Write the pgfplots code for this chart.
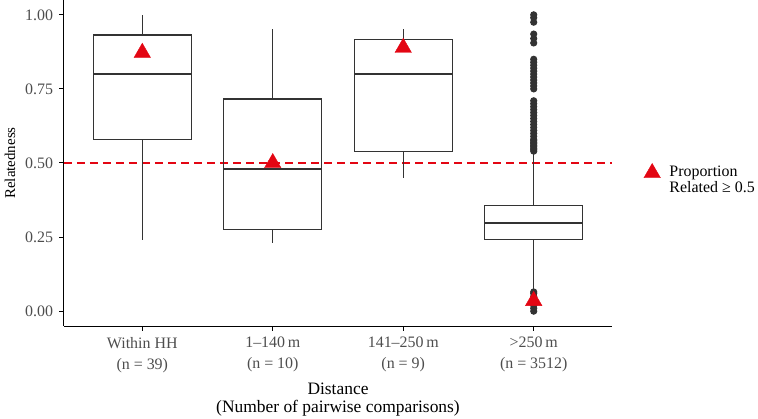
\documentclass[border=0pt]{standalone}
\usepackage{pgfplots}
\pgfplotsset{compat=1.18}
\usepgfplotslibrary{statistics}
\usepackage{fontspec}
\setmainfont{Liberation Serif}

\definecolor{boxgrey}{HTML}{333333}
\definecolor{tickgrey}{HTML}{4D4D4D}
\definecolor{trired}{RGB}{227,6,19}

\begin{document}
\begin{tikzpicture}
\begin{axis}[
    name=ax,
    scale only axis,
    width=548bp, height=326bp,
    xmin=0.4, xmax=4.6,
    ymin=-0.05, ymax=1.05,
    axis lines*=left,
    axis line style={line width=1bp, black},
    tick align=outside,
    major tick length=4.5bp,
    tick style={line width=1bp, black},
    xtick={1,2,3,4},
    xticklabels={{Within HH\\(n = 39)}, {1--140\,m\\(n = 10)}, {141--250\,m\\(n = 9)}, {>250\,m\\(n = 3512)}},
    x tick label style={align=center, font=\fontsize{16}{21}\selectfont, text=tickgrey, yshift=-3bp},
    ytick={0,0.25,0.5,0.75,1},
    yticklabel style={font=\fontsize{16}{18}\selectfont, text=tickgrey, xshift=-3bp,
        /pgf/number format/fixed, /pgf/number format/fixed zerofill,
        /pgf/number format/precision=2, /pgf/number format/assume math mode=true},
    xlabel={Distance\\(Number of pairwise comparisons)},
    ylabel={Relatedness},
    every axis x label/.style={at={(axis description cs:0.5,-0.2255)}, anchor=center, align=center, font=\fontsize{17.5}{18.5}\selectfont},
    every axis y label/.style={at={(axis description cs:-0.0985,0.5)}, anchor=center, rotate=90, font=\fontsize{15}{18}\selectfont},
    boxplot/draw direction=y,
    boxplot/box extend=0.75,
    boxplot/whisker extend=0,
    boxplot/every median/.style={line width=2.4bp},
    legend style={at={(axis description cs:1.0525,0.448)}, anchor=west, draw=none, fill=none,
        column sep=7bp, cells={align=left}, font=\fontsize{16}{17}\selectfont},
    legend cell align=left,
    legend image post style={yshift=7bp},
]

% reference line at 0.5
\addplot[draw=trired, fill=none, mark=none, line width=1.1bp,
    dash pattern=on 8bp off 5bp, forget plot]
    coordinates {(0.4,0.5) (4.6,0.5)};

% boxes
\addplot[boxplot prepared={draw position=1, lower whisker=0.24, lower quartile=0.58,
    median=0.80, upper quartile=0.932, upper whisker=1.0},
    draw=boxgrey, line width=1.1bp, fill=none, forget plot] coordinates {};
\addplot[boxplot prepared={draw position=2, lower whisker=0.23, lower quartile=0.277,
    median=0.48, upper quartile=0.716, upper whisker=0.953},
    draw=boxgrey, line width=1.1bp, fill=none, forget plot] coordinates {};
\addplot[boxplot prepared={draw position=3, lower whisker=0.449, lower quartile=0.54,
    median=0.80, upper quartile=0.916, upper whisker=0.953},
    draw=boxgrey, line width=1.1bp, fill=none, forget plot] coordinates {};
\addplot[boxplot prepared={draw position=4, lower whisker=0.07, lower quartile=0.243,
    median=0.297, upper quartile=0.358, upper whisker=0.53},
    draw=boxgrey, line width=1.1bp, fill=none, forget plot,
    mark=*, mark size=3bp, mark options={draw=boxgrey, fill=boxgrey}]
    table[row sep=\\, y index=0] {data\\
    1.00\\ 0.99\\ 0.975\\ 0.935\\ 0.92\\ 0.905\\
    0.85\\ 0.84\\ 0.83\\ 0.82\\ 0.81\\ 0.80\\ 0.79\\ 0.78\\ 0.77\\ 0.76\\ 0.75\\
    0.71\\ 0.70\\ 0.69\\ 0.68\\ 0.67\\ 0.66\\ 0.65\\ 0.64\\ 0.63\\ 0.62\\ 0.61\\
    0.60\\ 0.59\\ 0.58\\ 0.575\\ 0.57\\ 0.565\\ 0.56\\ 0.555\\ 0.55\\ 0.545\\ 0.54\\
    0.065\\ 0.06\\ 0.05\\ 0.04\\ 0.03\\ 0.02\\ 0.01\\ 0.0\\
    };

% proportion related >= 0.5
\addplot[only marks, mark=triangle*, mark size=9.5bp, color=trired]
    coordinates {(1,0.872) (2,0.5) (3,0.889) (4,0.035)};
\addlegendentry{Proportion\\Related ≥ 0.5}

\coordinate (sw) at (rel axis cs:0,0);
\coordinate (ne) at (rel axis cs:1,1);
\end{axis}
\pgfresetboundingbox
\path[use as bounding box] ([shift={(-64bp,-93bp)}]sw) rectangle ([shift={(146bp,0bp)}]ne);
\end{tikzpicture}
\end{document}
